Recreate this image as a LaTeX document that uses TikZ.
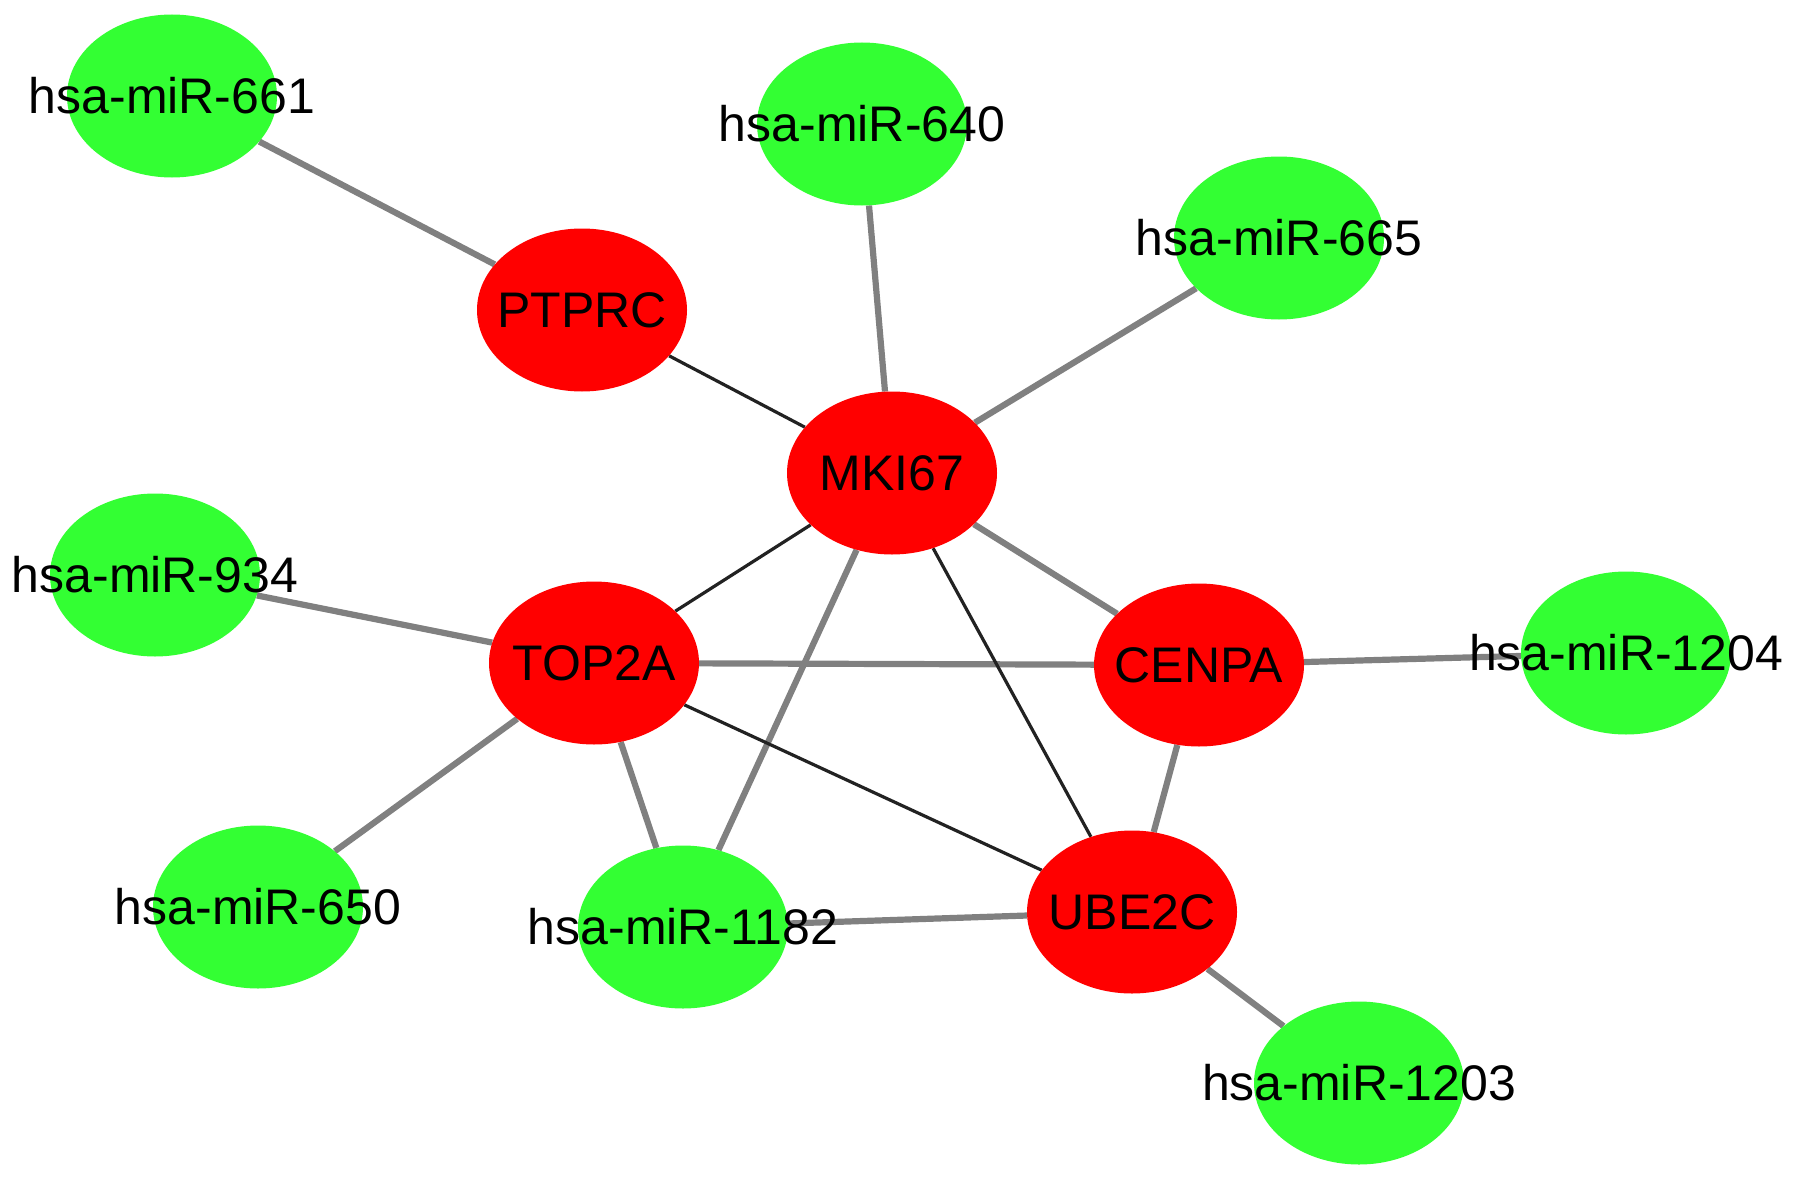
\documentclass[tikz,border=0pt]{standalone}
\usepackage{fontspec}
\setmainfont{Liberation Sans}
\usetikzlibrary{shapes.geometric,backgrounds}
\definecolor{mirgreen}{RGB}{51,255,51}
\definecolor{genered}{RGB}{255,0,0}
\definecolor{edgegray}{RGB}{128,128,128}
\definecolor{edgedark}{RGB}{34,34,34}
\tikzset{
  base/.style={ellipse, minimum width=210pt, minimum height=163pt, inner sep=0pt, draw=none},
  mirna/.style={base, fill=mirgreen},
  gene/.style={base, fill=genered},
  lbl/.style={font=\fontsize{50}{52}\selectfont, text=black, inner sep=0pt},
  mirtarget/.style={draw=edgegray, line width=6.2pt},
  ppi/.style={draw=edgedark, line width=3.2pt},
}
\begin{document}
\begin{tikzpicture}[x=1pt,y=-1pt]
\useasboundingbox (0,0) rectangle (1795,1180);
% miRNA nodes
\node[mirna, label={[lbl]center:hsa-miR-661}] (m661) at (172,96) {};
\node[mirna, label={[lbl]center:hsa-miR-640}] (m640) at (862,124) {};
\node[mirna, label={[lbl]center:hsa-miR-665}] (m665) at (1279,238) {};
\node[mirna, label={[lbl]center:hsa-miR-934}] (m934) at (155,575) {};
\node[mirna, label={[lbl]center:hsa-miR-1204}] (m1204) at (1626,653) {};
\node[mirna, label={[lbl]center:hsa-miR-650}] (m650) at (258,907) {};
\node[mirna, label={[lbl]center:hsa-miR-1182}] (m1182) at (683,927) {};
\node[mirna, label={[lbl]center:hsa-miR-1203}] (m1203) at (1359,1083) {};
% gene nodes
\node[gene, label={[lbl]center:PTPRC}] (ptprc) at (582,310) {};
\node[gene, label={[lbl]center:MKI67}] (mki67) at (892,473) {};
\node[gene, label={[lbl]center:TOP2A}] (top2a) at (594,663) {};
\node[gene, label={[lbl]center:CENPA}] (cenpa) at (1199,665) {};
\node[gene, label={[lbl]center:UBE2C}] (ube2c) at (1132,912) {};
\begin{pgfonlayer}{background}
\fill[white] (0,0) rectangle (1795,1180);
\draw[mirtarget] (m661) -- (ptprc);
\draw[mirtarget] (m640) -- (mki67);
\draw[mirtarget] (m665) -- (mki67);
\draw[mirtarget] (mki67) -- (m1182);
\draw[mirtarget] (mki67) -- (cenpa);
\draw[mirtarget] (m934) -- (top2a);
\draw[mirtarget] (top2a) -- (cenpa);
\draw[mirtarget] (top2a) -- (m650);
\draw[mirtarget] (top2a) -- (m1182);
\draw[mirtarget] (cenpa) -- (m1204);
\draw[mirtarget] (cenpa) -- (ube2c);
\draw[mirtarget] (m1182) -- (ube2c);
\draw[mirtarget] (ube2c) -- (m1203);
\draw[ppi] (ptprc) -- (mki67);
\draw[ppi] (mki67) -- (top2a);
\draw[ppi] (mki67) -- (ube2c);
\draw[ppi] (top2a) -- (ube2c);
\end{pgfonlayer}
\end{tikzpicture}
\end{document}
